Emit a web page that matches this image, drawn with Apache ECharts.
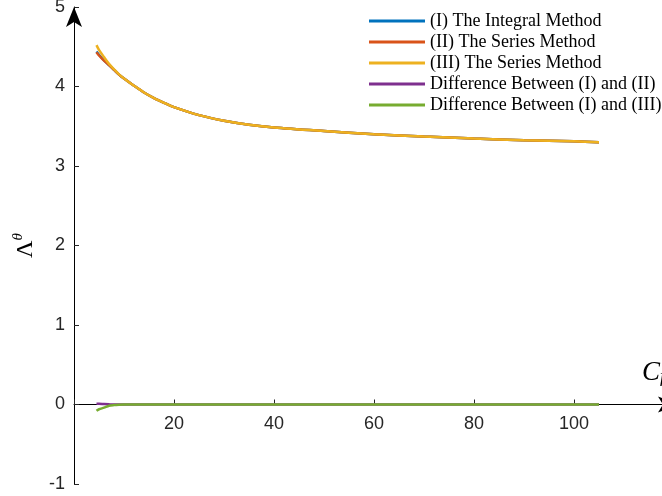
<!DOCTYPE html>
<html><head><meta charset="utf-8">
<script src="https://cdn.jsdelivr.net/npm/echarts@6/dist/echarts.min.js"></script>
<style>html,body{margin:0;padding:0;background:#fff}#c{width:662px;height:496px}</style>
</head><body><div id="c"></div>
<script>
const xValues      = [4.5, 5, 6, 7, 8, 9, 10, 12, 14, 16, 18, 20, 25, 30, 35, 40, 50, 60, 70, 80, 90, 100, 105];
const integralI    = [4.44, 4.40, 4.33, 4.27, 4.21, 4.15, 4.10, 4.01, 3.925, 3.855, 3.795, 3.74, 3.64, 3.57, 3.52, 3.485, 3.44, 3.40, 3.37, 3.345, 3.325, 3.31, 3.30];
const seriesII     = [4.43, 4.39, 4.325, 4.27, 4.21, 4.15, 4.10, 4.01, 3.925, 3.855, 3.795, 3.74, 3.64, 3.57, 3.52, 3.485, 3.44, 3.40, 3.37, 3.345, 3.325, 3.31, 3.30];
const seriesIII    = [4.52, 4.46, 4.37, 4.285, 4.217, 4.153, 4.101, 4.01, 3.925, 3.855, 3.795, 3.74, 3.64, 3.57, 3.52, 3.485, 3.44, 3.40, 3.37, 3.345, 3.325, 3.31, 3.30];
const diffI_II     = [0.01, 0.01, 0.005, 0.002, 0, 0, 0, 0, 0, 0, 0, 0, 0, 0, 0, 0, 0, 0, 0, 0, 0, 0, 0];
const diffI_III    = [-0.08, -0.06, -0.04, -0.015, -0.007, -0.003, -0.001, 0, 0, 0, 0, 0, 0, 0, 0, 0, 0, 0, 0, 0, 0, 0, 0];
const seriesNames  = ['(I) The Integral Method', '(II) The Series Method', '(III) The Series Method', 'Difference Between (I) and (II)', 'Difference Between (I) and (III)'];
const seriesColors = ['#0072BD', '#D95319', '#EDB120', '#7E2F8E', '#77AC30'];
const xTickValues  = [20, 40, 60, 80, 100];
const yTickValues  = [-1, 0, 1, 2, 3, 4, 5];

const allData = [integralI, seriesII, seriesIII, diffI_II, diffI_III];
const chart = echarts.init(document.getElementById('c'), null, {renderer: 'canvas'});
const labelFont = 'Liberation Sans, Arial, sans-serif';
const serif = 'Liberation Serif, DejaVu Serif, serif';
const gridTop = 7, gridHeight = 477, yMin = -1, yMax = 5;
// move the x axis (with its labels) from the grid bottom up to y = 0
const xAxisOffset = -gridHeight * (0 - yMin) / (yMax - yMin);

chart.setOption({
  animation: false,
  backgroundColor: '#ffffff',
  grid: {left: 74, width: 590, top: gridTop, height: gridHeight, containLabel: false, outerBoundsMode: 'none'},
  legend: {
    orient: 'vertical', left: 364, top: 7, icon: 'rect', itemWidth: 56, itemHeight: 3, itemGap: 3,
    textStyle: {fontFamily: serif, fontSize: 18, color: '#000', lineHeight: 18},
    data: seriesNames
  },
  xAxis: {
    type: 'value', min: 0, max: 118, interval: 20, position: 'bottom', offset: xAxisOffset,
    name: '{c|C}{s|f}', nameLocation: 'end', nameGap: -22,
    nameTextStyle: {verticalAlign: 'bottom', padding: [0, 0, 18, 0],
      rich: {c: {fontFamily: serif, fontStyle: 'italic', fontSize: 27, color: '#000'},
             s: {fontFamily: serif, fontStyle: 'italic', fontSize: 18, color: '#000', padding: [10, 0, 0, 0]}}},
    axisLine: {onZero: false, lineStyle: {color: '#000', width: 1}, symbol: ['none', 'arrow'], symbolSize: [12, 20], symbolOffset: [0, 14]},
    axisTick: {inside: true, length: 5, lineStyle: {color: '#262626'}},
    axisLabel: {color: '#262626', fontFamily: labelFont, fontSize: 18, margin: 11,
      formatter: v => xTickValues.includes(v) ? String(v) : ''},
    splitLine: {show: false}
  },
  yAxis: {
    type: 'value', min: yMin, max: yMax, interval: 1,
    name: '{l|Λ}{t|θ}', nameLocation: 'middle', nameRotate: 90, nameGap: 34,
    nameTextStyle: {rich: {l: {fontFamily: serif, fontSize: 24, color: '#000'},
                           t: {fontFamily: serif, fontStyle: 'italic', fontSize: 15, color: '#000', padding: [0, 0, 14, 0]}}},
    axisLine: {show: true, onZero: false, lineStyle: {color: '#000', width: 1}, symbol: ['none', 'arrow'], symbolSize: [12, 20], symbolOffset: [0, 0]},
    axisTick: {show: true, inside: true, length: 5, lineStyle: {color: '#262626'}},
    axisLabel: {color: '#262626', fontFamily: labelFont, fontSize: 18, margin: 9,
      formatter: v => yTickValues.includes(v) ? String(v) : ''},
    splitLine: {show: false}
  },
  series: seriesNames.map((name, i) => ({
    name, type: 'line', showSymbol: false, symbol: 'none', smooth: 0.3,
    data: xValues.map((x, j) => [x, allData[i][j]]),
    lineStyle: {color: seriesColors[i], width: 2.5},
    itemStyle: {color: seriesColors[i]},
    z: 2 + i
  }))
});
</script>
</body></html>
